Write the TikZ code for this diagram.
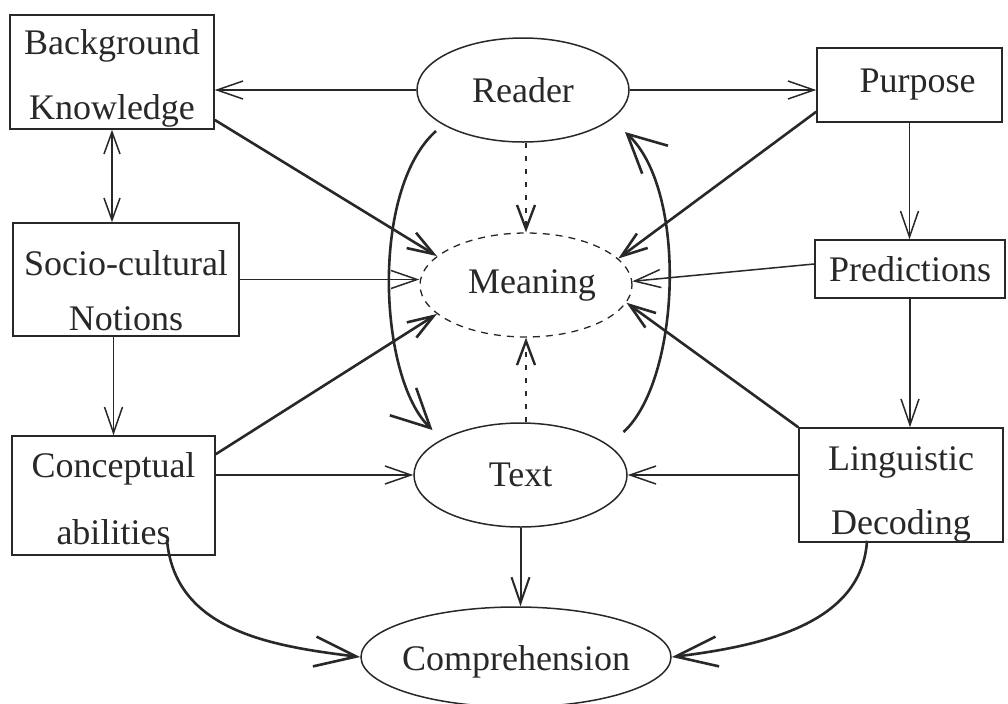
\documentclass[tikz,border=0pt]{standalone}
\usepackage{fontspec}
\setmainfont{Liberation Serif}
\usetikzlibrary{arrows.meta,shapes.geometric,calc}
\definecolor{ink}{RGB}{40,40,40}
\begin{document}
\begin{tikzpicture}[x=0.5pt,y=-0.5pt,
  every node/.style={text=ink, font=\fontsize{18}{31}\selectfont},
  box/.style={draw=ink, line width=0.75pt, rectangle, inner sep=0pt, align=center},
  txt/.style={align=center, inner sep=0pt, font=\fontsize{18}{#1}\selectfont},
  ell/.style={draw=ink, line width=0.75pt, ellipse, inner sep=0pt},
  lnarrow/.style={draw=ink, line width=0.75pt, -{Straight Barb[length=13pt,width=9pt]}},
  bdarrow/.style={draw=ink, line width=1.3pt, -{Straight Barb[length=13pt,width=9pt]}},
  dotarrow/.style={draw=ink, line width=1.2pt, dash pattern=on 2.5pt off 4pt, -{Straight Barb[length=12pt,width=9pt]}},
  bigcurve/.style={draw=ink, line width=1.3pt, -{Straight Barb[length=19pt,width=19pt]}},
  lowcurve/.style={draw=ink, line width=1.3pt, -{Straight Barb[length=21pt,width=15pt]}},
]
\useasboundingbox (0,0) rectangle (1008,703);

% boxes
\node[box, minimum width=102pt, minimum height=57pt,
      label={[txt=32.5pt, yshift=-3.25pt]center:{Background\\Knowledge}}] (BK) at (112,72) {};
\node[box, minimum width=113pt, minimum height=56.5pt,
      label={[txt=27.5pt, yshift=-5.5pt]center:{Socio-cultural\\Notions}}] (SC) at (126,279.5) {};
\node[box, minimum width=101.5pt, minimum height=59.5pt,
      label={[txt=33.5pt, yshift=-1.75pt]center:{Conceptual\\abilities}}] (CA) at (113.5,495.5) {};
\node[box, minimum width=92.5pt, minimum height=37pt] (PU) at (909.5,85) {\hspace*{8pt}Purpose};
\node[box, minimum width=95pt, minimum height=29pt] (PR) at (910,269) {Predictions};
\node[box, minimum width=102pt, minimum height=57pt,
      label={[txt=32pt, yshift=-4.5pt]center:{Linguistic\\Decoding}}] (LD) at (901,485) {};

% ellipses
\node[ell, minimum width=106pt, minimum height=52pt] (R) at (523,90) {\makebox[0pt]{Reader}};
\node[ell, draw=ink, line width=0.65pt, dash pattern=on 3.5pt off 3pt, minimum width=106pt, minimum height=52pt] (M) at (526,285) {\makebox[0pt]{\hspace*{6pt}Meaning}};
\node[ell, minimum width=106.5pt, minimum height=52pt] (T) at (520.5,475) {\makebox[0pt]{Text}};
\node[ell, minimum width=155pt, minimum height=50pt] (C) at (516,657) {\makebox[0pt]{\raisebox{-6.5pt}[0pt][0pt]{Comprehension}}};

% thin arrows
\draw[lnarrow] (R.west) -- (R.west -| BK.east);
\draw[lnarrow] (R.east) -- (R.east -| PU.west);
\draw[lnarrow, {Straight Barb[length=11pt,width=8pt]}-{Straight Barb[length=11pt,width=8pt]}] (BK.south) -- (BK.south |- SC.north);
\draw[lnarrow] (CA.north |- SC.south) -- (CA.north);
\draw[lnarrow] (PU.south) -- (PU.south |- PR.north);
\draw[lnarrow] (PR.south) -- (PR.south |- LD.north);
\draw[lnarrow] (SC.east) -- (SC.east -| M.west);
\draw[lnarrow] (PR.177) -- (M.2);
\draw[lnarrow] (CA.east |- T.west) -- (T.west);
\draw[lnarrow] (LD.west |- T.east) -- (T.east);
\draw[lnarrow, line width=1pt] (T.south) -- (T.south |- C.north);

% bold arrows into Meaning
\draw[bdarrow] (BK.-25) -- (M.162);
\draw[bdarrow] (CA.22) -- (M.198);
\draw[bdarrow] (PU.196) -- (M.16);
\draw[bdarrow] (LD.north west) -- (M.-10);

% dotted arrows
\draw[dotarrow] (M.north |- R.south) -- (M.north);
\draw[dotarrow] (M.south |- T.north) -- (M.south);

% big side curves
\draw[bigcurve] ($(R.center)+(-87,41)$) .. controls ($(R.center)+(-153,100)$) and ($(T.center)+(-142,-97)$) .. ($(T.center)+(-88,-45)$);
\draw[bigcurve] ($(T.center)+(103,-43)$) .. controls ($(T.center)+(160,-95)$) and ($(R.center)+(165,100)$) .. ($(R.center)+(102,42)$);

% curves to Comprehension
\draw[lowcurve] ($(CA.center)+(53.5,44.5)$) .. controls +(8,90) and +(-91,-11) .. (C.west);
\draw[lowcurve] ($(LD.south)+(-34,-2)$) .. controls +(-5,80) and +(99,-12) .. (C.east);
\end{tikzpicture}
\end{document}
